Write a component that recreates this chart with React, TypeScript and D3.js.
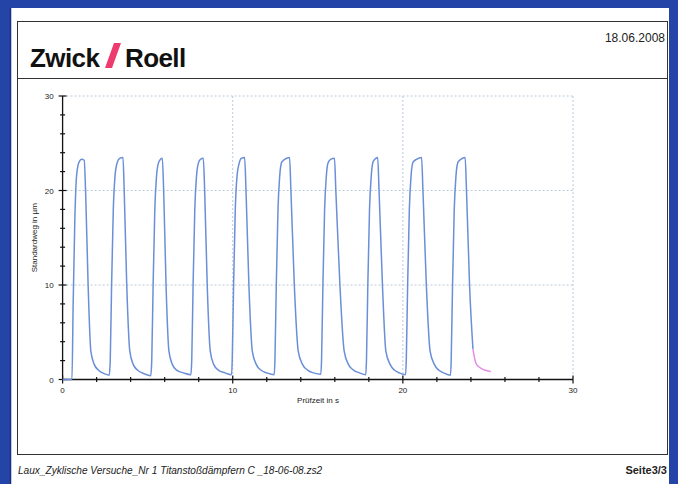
import React from "react";
import * as d3 from "d3";

// measured test curve (time in s, displacement in µm)
const cycle1 = [[0, 0], [0.55, 0], [0.62, 8], [0.72, 17], [0.8, 21], [0.9, 22.6], [1.0, 23.1], [1.12, 23.3], [1.27, 23.2], [1.35, 20], [1.5, 10], [1.66, 3], [1.86, 1.6], [2.1, 1.0], [2.48, 0.6], [2.74, 0.45]];
const cycle2 = [[2.8, 2], [2.88, 10], [2.98, 18], [3.08, 21.5], [3.2, 22.9], [3.35, 23.4], [3.55, 23.5], [3.62, 20], [3.77, 10], [3.95, 3], [4.15, 1.6], [4.4, 1.0], [4.8, 0.6], [5.18, 0.4]];
const cycle3 = [[5.24, 2], [5.32, 10], [5.42, 18], [5.52, 21.5], [5.63, 22.9], [5.75, 23.3], [5.86, 23.4], [5.94, 20], [6.08, 10], [6.25, 3], [6.45, 1.6], [6.7, 1.0], [7.1, 0.7], [7.54, 0.5]];
const cycle4 = [[7.59, 2], [7.67, 10], [7.77, 18], [7.87, 21.5], [7.98, 22.9], [8.1, 23.3], [8.27, 23.4], [8.35, 20], [8.5, 10], [8.68, 3], [8.88, 1.6], [9.15, 1.0], [9.55, 0.7], [9.93, 0.5]];
const cycle5 = [[9.97, 2], [10.05, 10], [10.15, 18], [10.25, 21.5], [10.38, 22.9], [10.5, 23.4], [10.7, 23.5], [10.78, 20], [10.95, 10], [11.15, 3], [11.38, 1.6], [11.65, 1.0], [12.0, 0.7], [12.44, 0.5]];
const cycle6 = [[12.48, 2], [12.56, 10], [12.66, 18], [12.76, 21.5], [12.88, 23.0], [13.05, 23.3], [13.34, 23.5], [13.42, 20], [13.62, 10], [13.85, 3], [14.1, 1.6], [14.4, 1.0], [14.75, 0.7], [15.18, 0.55]];
const cycle7 = [[15.22, 2], [15.3, 10], [15.4, 18], [15.5, 21.5], [15.6, 22.9], [15.75, 23.3], [15.98, 23.4], [16.06, 20], [16.3, 10], [16.55, 3], [16.8, 1.6], [17.1, 1.0], [17.45, 0.7], [17.82, 0.5]];
const cycle8 = [[17.86, 2], [17.94, 10], [18.04, 18], [18.14, 21.5], [18.24, 23.0], [18.35, 23.3], [18.52, 23.5], [18.6, 20], [18.8, 10], [19.0, 3], [19.25, 1.6], [19.5, 1.0], [19.8, 0.7], [20.16, 0.5]];
const cycle9 = [[20.2, 2], [20.28, 10], [20.38, 18], [20.48, 21.5], [20.6, 23.0], [20.8, 23.3], [21.1, 23.5], [21.18, 20], [21.38, 10], [21.6, 3], [21.85, 1.6], [22.1, 1.0], [22.4, 0.7], [22.8, 0.45]];
const cycle10 = [[22.84, 2], [22.92, 10], [23.02, 18], [23.12, 21.5], [23.24, 23.0], [23.4, 23.3], [23.66, 23.5], [23.74, 20], [23.92, 10], [24.12, 3.2]];
// last part drawn in pink
const tail = [[24.12, 3.2], [24.3, 1.7], [24.5, 1.3], [24.8, 1.0], [25.17, 0.85]];

const xTicks = [0, 10, 20, 30];
const yTicks = [0, 10, 20, 30];
const xMinor = d3.range(0, 31, 2);
const yMinor = d3.range(0, 31, 2);

const W = 678;
const H = 484;
const plot = { left: 62.6, right: 573, top: 96, bottom: 379.5 };

export default function App() {
  const x = d3.scaleLinear().domain([0, 30]).range([plot.left, plot.right]);
  const y = d3.scaleLinear().domain([0, 30]).range([plot.bottom, plot.top]);

  const mainData = [
    ...cycle1, ...cycle2, ...cycle3, ...cycle4, ...cycle5,
    ...cycle6, ...cycle7, ...cycle8, ...cycle9, ...cycle10,
  ];
  const line = d3
    .line<number[]>()
    .x((d) => x(d[0]))
    .y((d) => y(d[1]))
    .curve(d3.curveMonotoneX);

  const font = "'Liberation Sans', Arial, sans-serif";
  const gridColor = "#a9bdd2";

  return (
    <div style={{ position: "fixed", left: 0, top: 0 }}>
      <svg width={W} height={H} style={{ display: "block" }}>
        {/* blue scan frame (left, top, right only) */}
        <rect x={0} y={0} width={W} height={H} fill="#2444a8" />
        <rect x={11} y={8} width={W - 20} height={H - 8} fill="#ffffff" />
        <line x1={10.5} x2={10.5} y1={8} y2={H} stroke="#1a2f80" strokeWidth={1.5} />
        {/* page boxes */}
        <rect x={17.5} y={21.5} width={650} height={433} fill="none" stroke="#333" strokeWidth={1} />
        <line x1={17.5} x2={667.5} y1={78.5} y2={78.5} stroke="#333" strokeWidth={1} />

        {/* logo */}
        <text x={30} y={67} fontFamily={font} fontWeight="bold" fontSize={26} fill="#111" letterSpacing={-0.6}>
          Zwick
        </text>
        <polygon points="114,43 121,43 112,68 105,68" fill="#ee3b6e" />
        <text x={125} y={67} fontFamily={font} fontWeight="bold" fontSize={26} fill="#111" letterSpacing={-0.6}>
          Roell
        </text>
        <text x={665} y={42} textAnchor="end" fontFamily={font} fontSize={12} fill="#222">
          18.06.2008
        </text>

        {/* grid */}
        {yTicks.filter((t) => t > 0).map((t) => (
          <line key={"gy" + t} x1={plot.left} x2={plot.right} y1={y(t)} y2={y(t)} stroke={gridColor} strokeWidth={0.8} strokeDasharray="2,2" />
        ))}
        {xTicks.filter((t) => t > 0).map((t) => (
          <line key={"gx" + t} x1={x(t)} x2={x(t)} y1={plot.top} y2={plot.bottom} stroke={gridColor} strokeWidth={0.8} strokeDasharray="2,2" />
        ))}

        {/* axes */}
        <line x1={plot.left} x2={plot.left} y1={plot.top} y2={plot.bottom} stroke="#111" strokeWidth={1.3} />
        <line x1={plot.left} x2={plot.right} y1={plot.bottom} y2={plot.bottom} stroke="#111" strokeWidth={1.3} />
        {yMinor.map((t) => (
          <line key={"ym" + t} x1={plot.left - (t % 10 === 0 ? 4 : 2.5)} x2={plot.left + (t % 10 === 0 ? 4 : 2.5)} y1={y(t)} y2={y(t)} stroke="#111" strokeWidth={1.2} />
        ))}
        {xMinor.map((t) => (
          <line key={"xm" + t} x1={x(t)} x2={x(t)} y1={plot.bottom - (t % 10 === 0 ? 4 : 2.5)} y2={plot.bottom + (t % 10 === 0 ? 4 : 2.5)} stroke="#111" strokeWidth={1.2} />
        ))}
        {yTicks.map((t) => (
          <text key={"yl" + t} x={plot.left - 9} y={y(t) + 3} textAnchor="end" fontFamily={font} fontSize={8} fill="#222">
            {t}
          </text>
        ))}
        {xTicks.map((t) => (
          <text key={"xl" + t} x={x(t)} y={plot.bottom + 13} textAnchor="middle" fontFamily={font} fontSize={8} fill="#222">
            {t}
          </text>
        ))}
        <text x={318} y={plot.bottom + 23} textAnchor="middle" fontFamily={font} fontSize={8} fill="#222">
          Prüfzeit in s
        </text>
        <text transform={`translate(37,${(plot.top + plot.bottom) / 2}) rotate(-90)`} textAnchor="middle" fontFamily={font} fontSize={8} fill="#222">
          Standardweg in µm
        </text>

        {/* curve */}
        <path d={line(mainData) || ""} fill="none" stroke="#6a8fd8" strokeWidth={1.5} />
        <path d={line(tail) || ""} fill="none" stroke="#e48de6" strokeWidth={1.5} />

        {/* footer */}
        <text x={18} y={474} fontFamily={font} fontStyle="italic" fontSize={10.1} fill="#222">
          Laux_Zyklische Versuche_Nr 1 Titanstoßdämpfern C _18-06-08.zs2
        </text>
        <text x={667} y={474} textAnchor="end" fontFamily={font} fontWeight="bold" fontSize={11} fill="#222">
          Seite3/3
        </text>
      </svg>
    </div>
  );
}
